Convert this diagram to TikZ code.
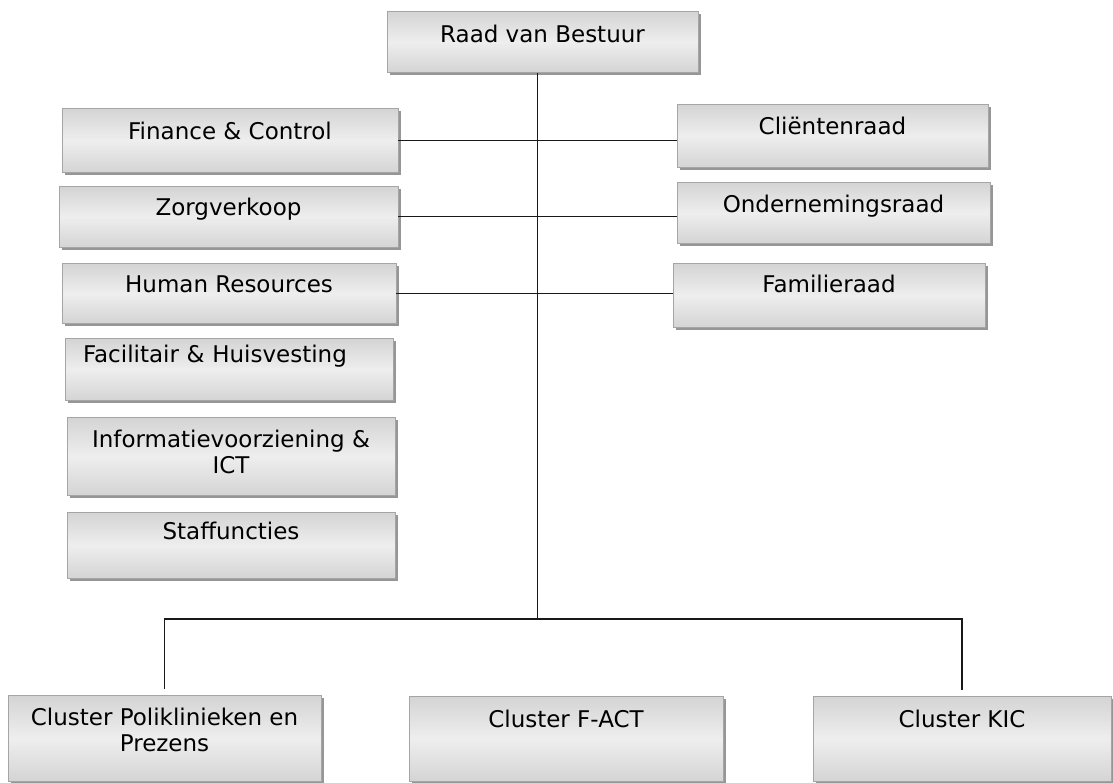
\documentclass[tikz,border=0pt]{standalone}
\usepackage{fontspec}
\setmainfont{DejaVu Sans}
\usepackage{tikz}
\usetikzlibrary{shadows,positioning}
\definecolor{grijsRand}{RGB}{165,165,165}
\definecolor{grijsSchaduw}{RGB}{150,150,150}
\definecolor{grijsLicht}{RGB}{238,238,238}
\definecolor{grijsMidden}{RGB}{212,212,212}
\definecolor{zwartLijn}{RGB}{25,25,25}
\tikzstyle{orgbox}=[rectangle, draw=grijsRand, line width=0.8pt, inner sep=0pt,
                    top color=grijsMidden, bottom color=grijsMidden,
                    middle color=grijsLicht,
                    drop shadow={shadow xshift=3pt, shadow yshift=-3pt,
                                 fill=grijsSchaduw, opacity=1},
                    align=center, anchor=north,
                    font=\fontsize{23}{26.5}\selectfont]
\tikzstyle{lijn}  =[line width=1pt, draw=zwartLijn]
\tikzstyle{bus}   =[line width=1.6pt, draw=zwartLijn]
\begin{document}
\begin{tikzpicture}[x=1pt, y=-1pt]
    \useasboundingbox (0,0) rectangle (1113,782);

        % bestuur
        \draw (542.5,11) node (rvb) [orgbox,minimum width=311pt,text height=31pt,text depth=30pt] {Raad van Bestuur};

        % staf links
        \draw (230,108) node (fin) [orgbox,minimum width=336pt,text height=31pt,text depth=33pt] {Finance \& Control};
        \draw (228.5,186) node (zorg) [orgbox,minimum width=339pt,text height=29pt,text depth=32pt] {Zorgverkoop};
        \draw (229,263) node (hr) [orgbox,minimum width=334pt,text height=29pt,text depth=31pt] {Human Resources};
        \draw (229,338) node (fac) [orgbox,text width=292pt,inner xsep=18pt,align=left,text height=24pt,text depth=38pt] {Facilitair \& Huisvesting};
        \draw (231,417) node (ict) [orgbox,minimum width=328pt,text height=56.5pt,text depth=21.5pt] {Informatievoorziening \&\\ICT};
        \draw (231,512) node (staf) [orgbox,minimum width=328pt,text height=27pt,text depth=39pt] {Staffuncties};

        % raden rechts
        \draw (832.5,104) node (clr) [orgbox,minimum width=311pt,text height=30pt,text depth=33pt] {Cliëntenraad};
        \draw (833.5,182) node (ond) [orgbox,minimum width=313pt,text height=30pt,text depth=31pt] {Ondernemingsraad};
        \draw (829,263) node (fam) [orgbox,minimum width=312pt,text height=29pt,text depth=35pt] {Familieraad};

        % clusters
        \draw (164.5,695) node (pol) [orgbox,minimum width=313pt,text height=56.5pt,text depth=29.5pt] {Cluster Poliklinieken en\\Prezens};
        \draw (566,696) node (fact) [orgbox,minimum width=314pt,text height=31pt,text depth=54pt] {Cluster F-ACT};
        \draw (962,696) node (kic) [orgbox,minimum width=298pt,text height=31pt,text depth=54pt] {Cluster KIC};

        \coordinate (knik) at (537,619);
        \draw [lijn] (rvb.south -| knik) -- (knik);
        \foreach \i/\j in {fin/clr,zorg/ond,hr/fam}
            \draw [lijn] (\i.east) -- (\i.east -| \j.west);
        \draw [bus,shorten >=6pt] (knik) -| (pol.north);
        \draw [bus,shorten >=6pt] (knik) -| (kic.north);

    \end{tikzpicture}
\end{document}
